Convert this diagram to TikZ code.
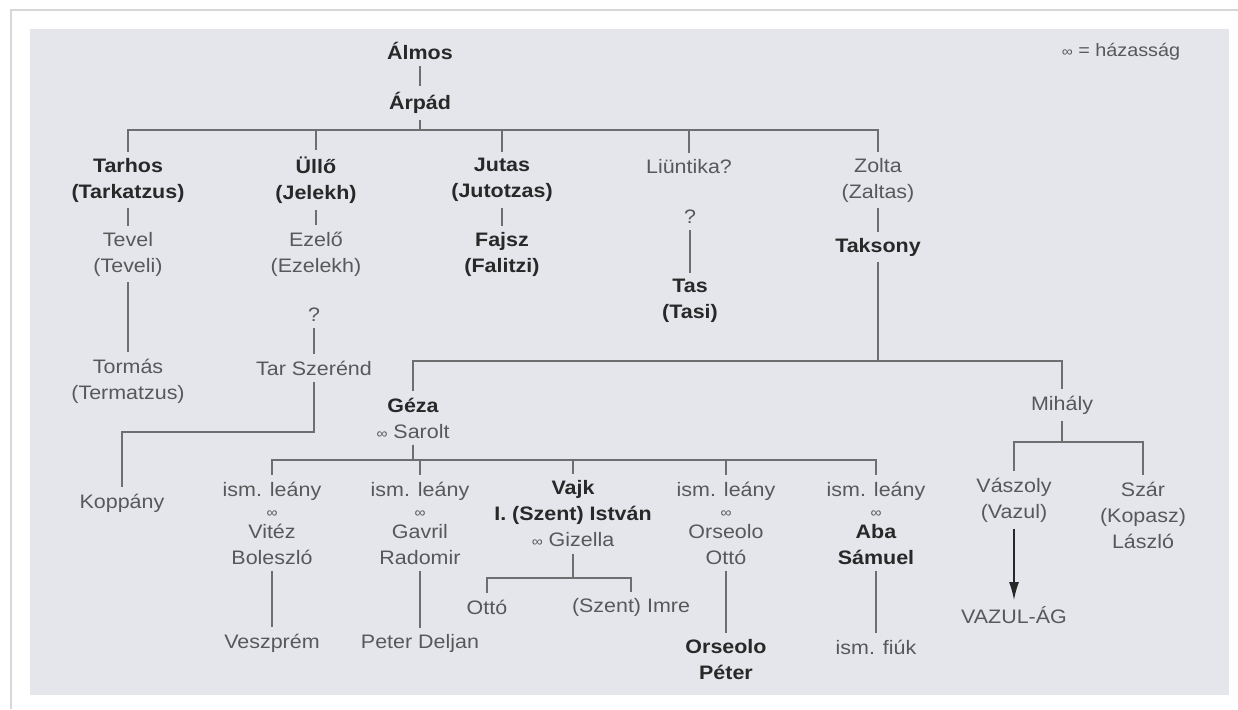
\documentclass[tikz,border=0pt]{standalone}
\usepackage{fontspec}
\setmainfont{Liberation Sans}[FakeStretch=1.1]
\usetikzlibrary{arrows.meta}
\definecolor{panelgray}{RGB}{228,230,235}
\definecolor{txtdark}{RGB}{40,40,40}
\definecolor{txtgray}{RGB}{88,88,90}
\definecolor{linegray}{RGB}{110,110,112}
\definecolor{framegray}{RGB}{215,215,215}
\newcommand{\hz}{{\fontsize{7}{7}\selectfont ∞}}
\newcommand{\bn}[1]{{\color{txtdark}\bfseries #1}}
\begin{document}
\begin{tikzpicture}[x=0.5pt,y=-0.5pt,pers/.style={font=\fontsize{9.75}{13}\selectfont,text=txtgray,align=center,inner sep=3pt},bpers/.style={pers,font=\fontsize{9.75}{13}\selectfont\bfseries,text=txtdark},kin/.style={draw=linegray,line width=0.7pt}]
\useasboundingbox (0,0) rectangle (1238,709);
\fill[white] (0,0) rectangle (1238,709);
\draw[framegray,line width=0.6pt] (11,709) -- (11,10) -- (1238,10);
\fill[panelgray] (30,29) rectangle (1229,695);
% top
\node[bpers] (almos) at (420,51) {Álmos};
\node[bpers] (arpad) at (420,103) {Árpád};
\node[pers,font=\fontsize{9}{11}\selectfont] (legend) at (1121,52) {\hz\ = házasság};
% sons of Arpad
\node[bpers] (tarhos) at (128,180) {Tarhos\\(Tarkatzus)};
\node[bpers] (ullo) at (316,180) {Üllő\\(Jelekh)};
\node[bpers] (jutas) at (502,180) {Jutas\\(Jutotzas)};
\node[pers] (liuntika) at (689,167) {Liüntika?};
\node[pers] (zolta) at (878,180) {Zolta\\(Zaltas)};
\node[pers] (tevel) at (128,254) {Tevel\\(Teveli)};
\node[pers] (ezelo) at (316,254) {Ezelő\\(Ezelekh)};
\node[bpers] (fajsz) at (502,254) {Fajsz\\(Falitzi)};
\node[pers] (q1) at (690,217) {?};
\node[bpers] (taksony) at (878,247) {Taksony};
\node[bpers] (tas) at (690,301) {Tas\\(Tasi)};
\node[pers] (tormas) at (128,381) {Tormás\\(Termatzus)};
\node[pers] (q2) at (314,315) {?};
\node[pers] (tarsz) at (314,368) {Tar Szerénd};
\node[pers] (koppany) at (122,503) {Koppány};
% Geza and Mihaly
\node[pers] (geza) at (413,418) {\bn{Géza}\\\hz\ Sarolt};
\node[pers] (mihaly) at (1062,405) {Mihály};
\node[pers] (ism1) at (272,523) {ism. leány\\[-2.5pt]\hz\\[-2.5pt]Vitéz\\Boleszló};
\node[pers] (ism2) at (420,523) {ism. leány\\[-2.5pt]\hz\\[-2.5pt]Gavril\\Radomir};
\node[pers] (vajk) at (573,514) {\bn{Vajk}\\\bn{I. (Szent) István}\\\hz\ Gizella};
\node[pers] (ism3) at (726,523) {ism. leány\\[-2.5pt]\hz\\[-2.5pt]Orseolo\\Ottó};
\node[pers] (ism4) at (876,523) {ism. leány\\[-2.5pt]\hz\\[-2.5pt]\bn{Aba}\\\bn{Sámuel}};
\node[pers] (vaszoly) at (1014,500) {Vászoly\\(Vazul)};
\node[pers] (szar) at (1143,515) {Szár\\(Kopasz)\\László};
% last row
\node[pers] (otto) at (487,607) {Ottó};
\node[pers] (imre) at (631,607) {(Szent) Imre};
\node[pers] (veszprem) at (272,643) {Veszprém};
\node[pers] (deljan) at (420,643) {Peter Deljan};
\node[bpers] (orspeter) at (726,660) {Orseolo\\Péter};
\node[pers] (fiuk) at (876,647) {ism. fiúk};
\node[pers] (vazulag) at (1014,615) {VAZUL-ÁG};
% bars
\coordinate (b0) at (420,130);
\coordinate (b1) at (878,361);
\coordinate (b2) at (413,460);
\coordinate (b3) at (573,578);
\coordinate (b4) at (1062,442);
\coordinate (k1) at (314,432);
\draw[kin] (almos) -- (arpad);
\foreach \c in {tarhos,ullo,jutas,liuntika,zolta} \draw[kin] (arpad) -- (b0) -| (\c.north);
\foreach \c in {geza,mihaly} \draw[kin] (taksony) -- (b1) -| (\c.north);
\foreach \c in {ism1,ism2,vajk,ism3,ism4} \draw[kin] (geza) -- (b2) -| (\c.north);
\foreach \c in {otto,imre} \draw[kin] (vajk) -- (b3) -| (\c.north);
\foreach \c in {vaszoly,szar} \draw[kin] (mihaly) -- (b4) -| (\c.north);
\draw[kin] (tarsz) -- (k1) -| (koppany.north);
\foreach \p/\q in {tarhos/tevel,tevel/tormas,ullo/ezelo,q2/tarsz,jutas/fajsz,q1/tas,zolta/taksony,ism1/veszprem,ism2/deljan,ism3/orspeter,ism4/fiuk} \draw[kin] (\p) -- (\q);
\draw[kin,draw=txtdark,-{Latex[length=9pt,width=5pt]}] (vaszoly) -- (vazulag);
\end{tikzpicture}
\end{document}
